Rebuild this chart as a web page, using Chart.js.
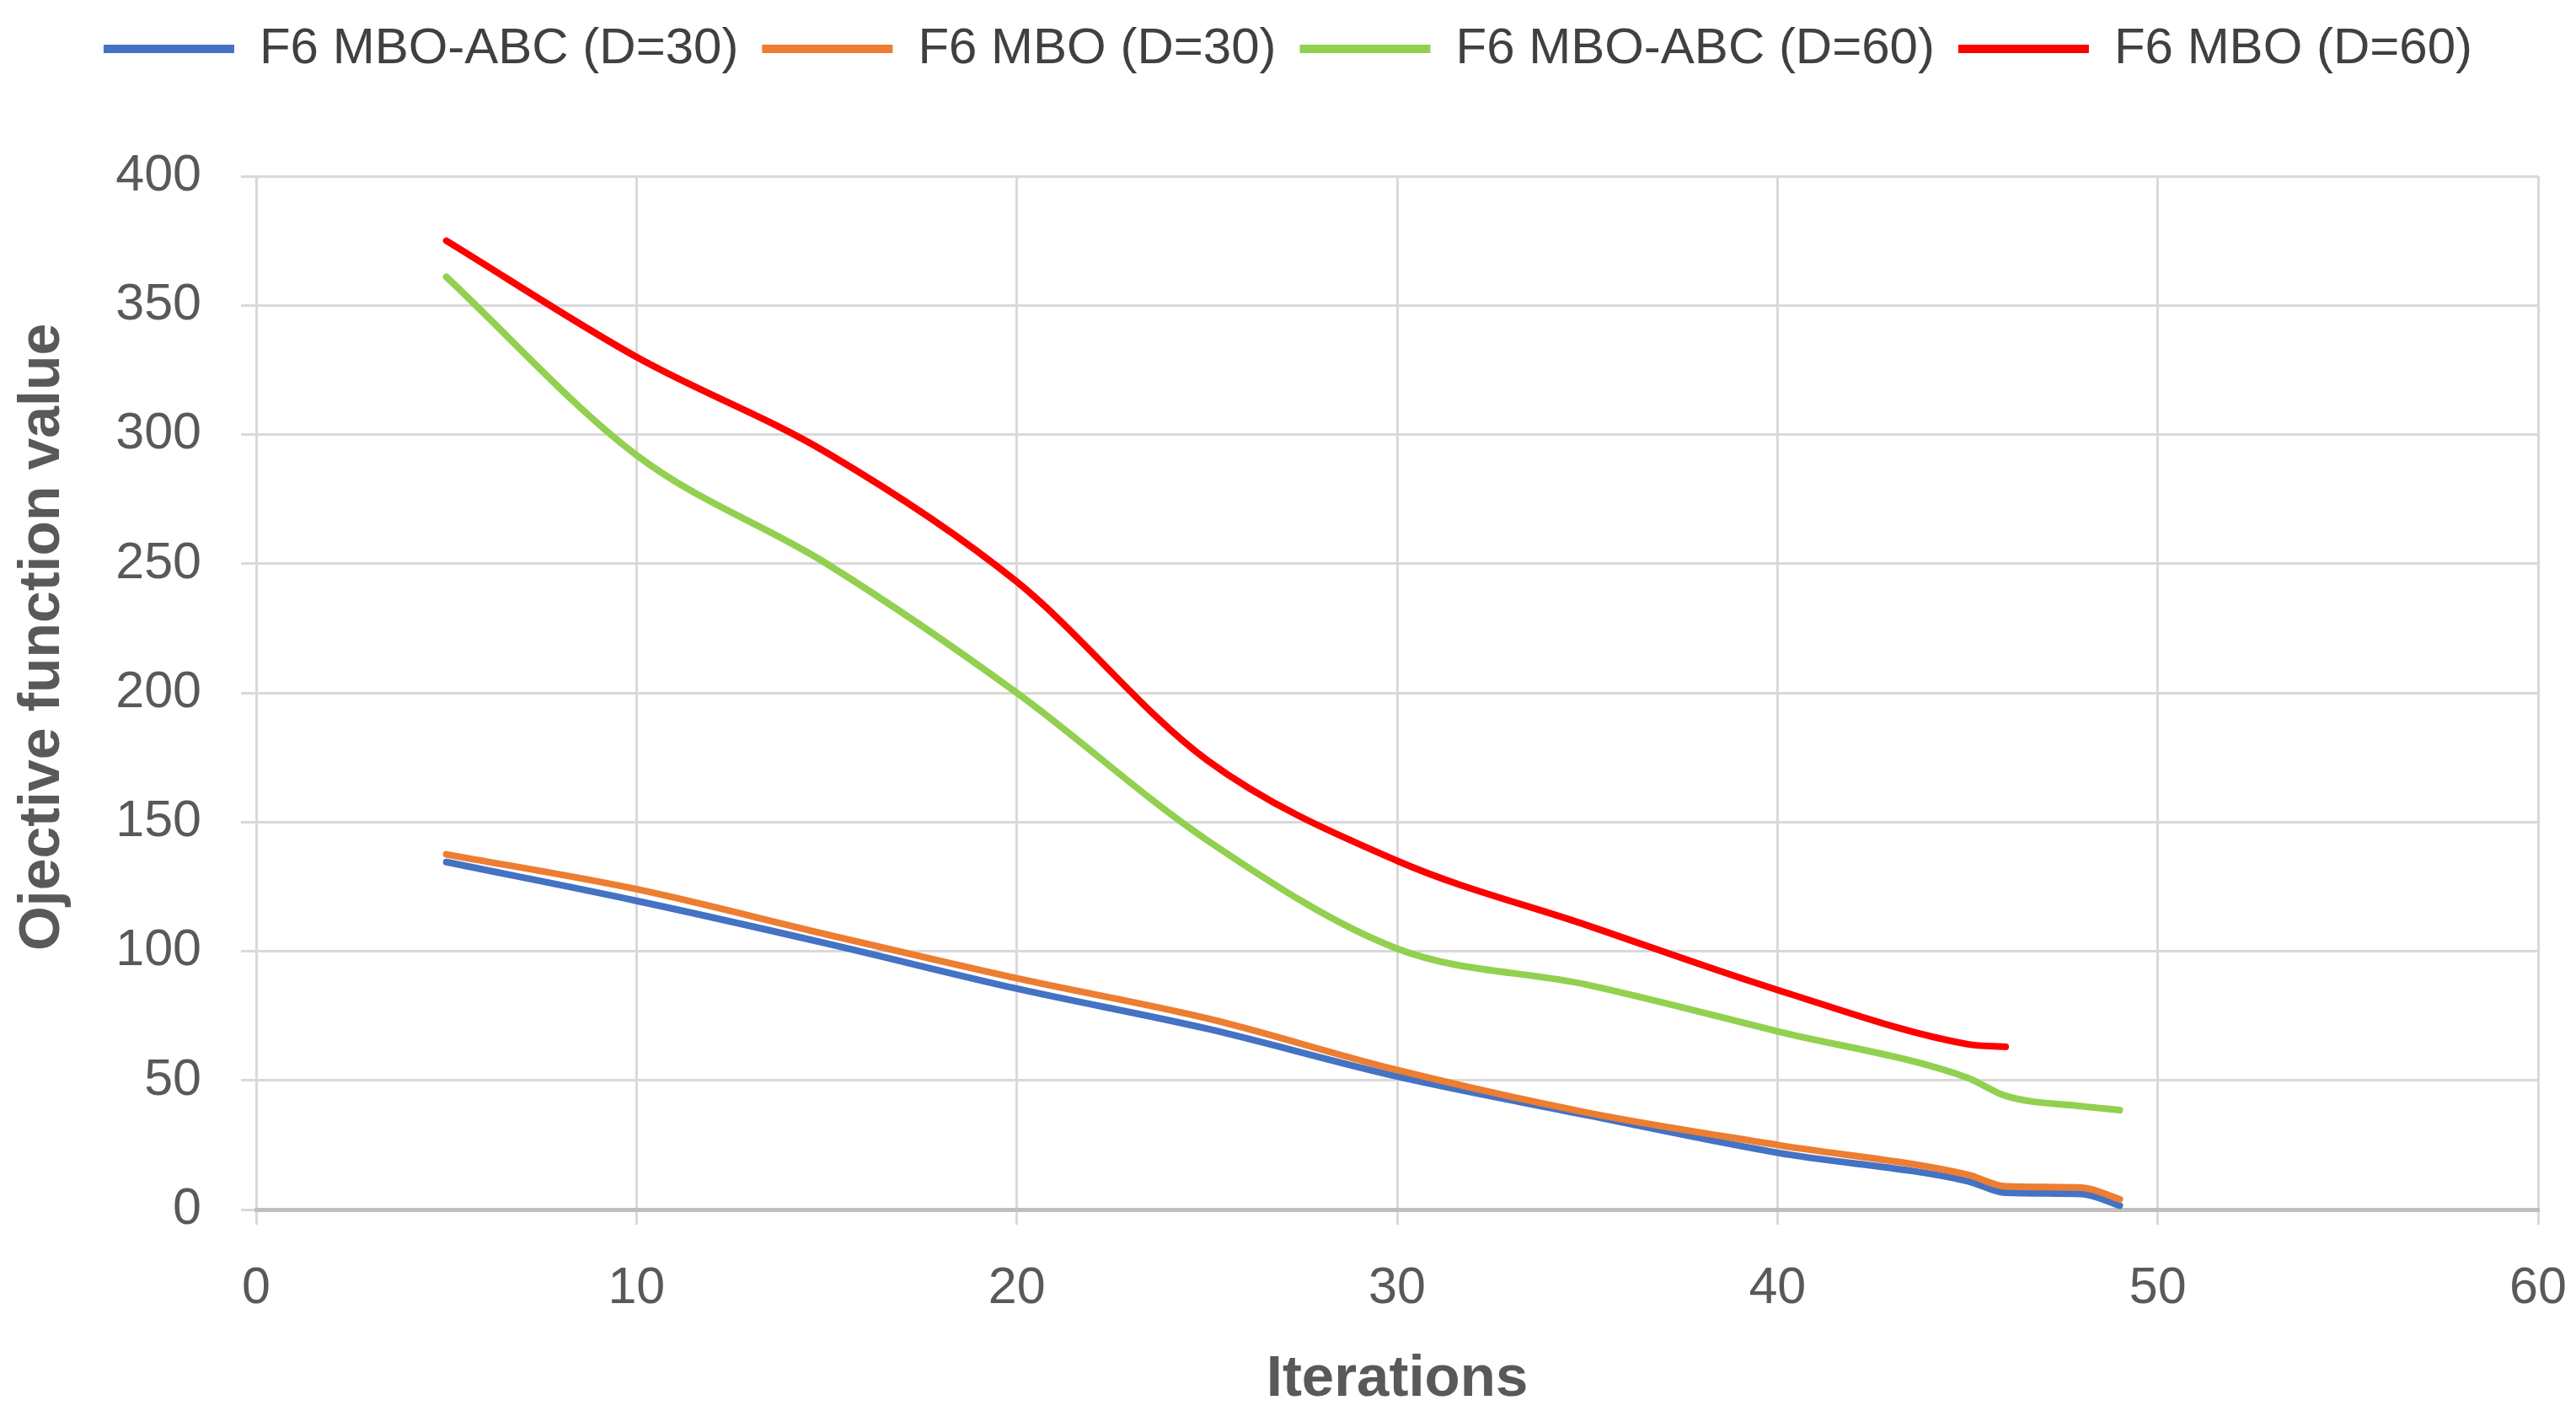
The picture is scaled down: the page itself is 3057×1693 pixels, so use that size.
<!DOCTYPE html>
<html>
<head>
<meta charset="utf-8">
<script src="https://cdn.jsdelivr.net/npm/chart.js@4.4.1/dist/chart.umd.min.js"></script>
<style>
  html, body { margin: 0; padding: 0; background: #ffffff; }
  #wrap { width: 3057px; height: 1693px; position: relative; }
</style>
</head>
<body>
<div id="wrap"><canvas id="c"></canvas></div>
<script>
// ---- data ----
const seriesNames = ["F6 MBO-ABC (D=30)", "F6 MBO (D=30)", "F6 MBO-ABC (D=60)", "F6 MBO (D=60)"];
const seriesColors = ["#4472C4", "#ED7D31", "#92D050", "#FF0000"];

const itersD30 = [5, 10, 15, 20, 25, 30, 35, 40, 45, 46, 48, 49];
const mboAbcD30 = [134.5, 119.5, 103, 85.5, 70, 51.5, 36.5, 22, 11, 6.5, 6, 1.5];
const mboD30 = [137.5, 124, 106.5, 89.5, 74, 54, 37.5, 25, 13.5, 9, 8.5, 4];

const itersAbcD60 = [5, 10, 15, 20, 25, 30, 35, 40, 45, 46, 48, 49];
const mboAbcD60 = [361, 292, 250, 200, 143, 101, 87, 69, 51, 44, 40, 38.5];

const itersMboD60 = [5, 10, 15, 20, 25, 30, 35, 40, 45, 46];
const mboD60 = [375, 330, 293, 243, 174, 135, 110, 85, 64, 63];

const xTicks = [0, 10, 20, 30, 40, 50, 60];
const yTicks = [0, 50, 100, 150, 200, 250, 300, 350, 400];

const xTitle = "Iterations";
const yTitle = "Ojective function value";

// ---- build datasets ----
function pts(xs, ys) { return xs.map((x, i) => ({ x: x, y: ys[i] })); }
const seriesX = [itersD30, itersD30, itersAbcD60, itersMboD60];
const seriesY = [mboAbcD30, mboD30, mboAbcD60, mboD60];

const datasets = seriesNames.map((name, i) => ({
  label: name,
  data: pts(seriesX[i], seriesY[i]),
  borderColor: seriesColors[i],
  backgroundColor: seriesColors[i],
  borderWidth: 8,
  pointRadius: 0,
  fill: false,
  tension: 0.4,
  cubicInterpolationMode: 'monotone',
  borderCapStyle: 'round',
  borderJoinStyle: 'round',
  order: 3 - i
}));

const gridColor = "#d9d9d9";
const textColor = "#595959";
const fontFam = "'Liberation Sans', Arial, sans-serif";

new Chart(document.getElementById('c'), {
  type: 'line',
  data: { datasets: datasets },
  options: {
    responsive: true,
    maintainAspectRatio: false,
    animation: false,
    devicePixelRatio: 1,
    layout: { padding: { left: 0, right: 0, top: 0, bottom: 10 } },
    plugins: {
      tooltip: { enabled: false },
      legend: {
        display: true,
        position: 'top',
        labels: {
          color: "#404040",
          font: { family: fontFam, size: 60 },
          boxWidth: 155,
          boxHeight: 10,
          padding: 28,
          sort: (a, b) => a.datasetIndex - b.datasetIndex,
          generateLabels: (chart) => chart.data.datasets.map((ds, i) => ({
            text: ds.label,
            fillStyle: ds.borderColor,
            strokeStyle: ds.borderColor,
            lineWidth: 0,
            hidden: false,
            datasetIndex: i,
            fontColor: "#404040"
          }))
        }
      }
    },
    scales: {
      x: {
        type: 'linear',
        position: 'bottom',
        min: 0, max: 60,
        afterBuildTicks: (s) => { s.ticks = xTicks.map(v => ({ value: v })); },
        ticks: {
          color: textColor,
          font: { family: fontFam, size: 61 },
          padding: 40,
          maxRotation: 0
        },
        grid: { color: gridColor, lineWidth: 3, drawTicks: true, tickLength: 18, tickColor: gridColor },
        border: { display: true, color: "#bfbfbf", width: 5 },
        title: {
          display: true,
          text: xTitle,
          color: textColor,
          font: { family: fontFam, size: 69, weight: 'bold' },
          padding: { top: 0, bottom: 5 }
        },
        afterFit: (s) => { s.height = 1693 - 1435 - 10; s.paddingRight = 45; s.paddingLeft = 0; }
      },
      xTop: {
        type: 'linear',
        position: 'top',
        display: true,
        min: 0, max: 1,
        ticks: { display: false },
        grid: { display: false, drawTicks: false },
        border: { display: false },
        afterFit: (s) => { s.height = 111; s.paddingRight = 0; s.paddingLeft = 0; }
      },
      y: {
        type: 'linear',
        min: 0, max: 400,
        afterBuildTicks: (s) => { s.ticks = yTicks.map(v => ({ value: v })); },
        ticks: {
          color: textColor,
          font: { family: fontFam, size: 61 },
          padding: 47
        },
        grid: { color: gridColor, lineWidth: 3, drawTicks: true, tickLength: 18, tickColor: gridColor },
        border: { display: false },
        title: {
          display: true,
          text: "       " + yTitle,
          color: textColor,
          font: { family: fontFam, size: 68, weight: 'bold' },
          padding: { top: 10, bottom: 0 }
        },
        afterFit: (s) => { s.width = 304; }
      }
    }
  }
});
</script>
</body>
</html>
